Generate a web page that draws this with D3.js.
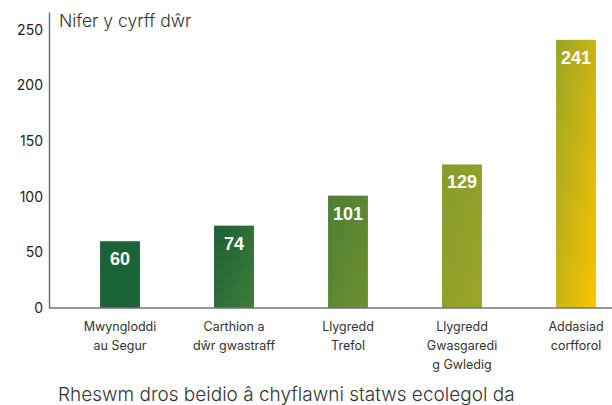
<html>
<head>
<meta charset="utf-8">
<script src="https://cdn.jsdelivr.net/npm/d3@7"></script>
<style>
  body { margin: 0; background: #fff; }
  .tick text { font-family: Inter, "DejaVu Sans", sans-serif; }
</style>
</head>
<body>
<svg width="612" height="405"></svg>
<script>
// data
var categories = [
  ["Mwyngloddi", "au Segur"],
  ["Carthion a", "dŵr gwastraff"],
  ["Llygredd", "Trefol"],
  ["Llygredd", "Gwasgaredi", "g Gwledig"],
  ["Addasiad", "corfforol"]
];
var values = [60, 74, 101, 129, 241];
var yTicks = [0, 50, 100, 150, 200, 250];
var yTitle = "Nifer y cyrff dŵr";
var xTitle = "Rheswm dros beidio â chyflawni statws ecolegol da";

// per-bar gradient, top-left -> bottom-right
var barColors = [
  ["#1a6237", "#1c6538"],
  ["#1b6136", "#3d7d3a"],
  ["#4e7e33", "#6c9130"],
  ["#879a2b", "#9ca629"],
  ["#98a526", "#fdc300"]
];

var svg = d3.select("svg"),
    width = +svg.attr("width"),
    height = +svg.attr("height");

var x = d3.scaleBand()
    .domain(d3.range(values.length))
    .range([63, 633])
    .paddingInner(0.65)
    .paddingOuter(0.325);

var y = d3.scaleLinear()
    .domain([0, 266])
    .range([308, 12]);

var defs = svg.append("defs");
barColors.forEach(function(c, i) {
  var g = defs.append("linearGradient")
      .attr("id", "grad" + i)
      .attr("x1", "0").attr("y1", "0")
      .attr("x2", "1").attr("y2", "1");
  g.append("stop").attr("offset", "0%").attr("stop-color", c[0]);
  g.append("stop").attr("offset", "100%").attr("stop-color", c[1]);
});

// bars
svg.append("g").selectAll("rect")
    .data(values)
    .enter().append("rect")
    .attr("x", function(d, i) { return x(i); })
    .attr("y", function(d) { return y(d); })
    .attr("width", x.bandwidth())
    .attr("height", function(d) { return y(0) - y(d); })
    .attr("fill", function(d, i) { return "url(#grad" + i + ")"; });

// value labels
svg.append("g").selectAll("text")
    .data(values)
    .enter().append("text")
    .attr("x", function(d, i) { return x(i) + x.bandwidth() / 2; })
    .attr("y", function(d) { return y(d) + 24; })
    .attr("text-anchor", "middle")
    .attr("fill", "#fff")
    .attr("font-family", "'Liberation Sans', Arial, sans-serif")
    .attr("font-weight", "bold")
    .attr("font-size", "18px")
    .text(function(d) { return d; });

// y axis
var yAxis = svg.append("g")
    .attr("transform", "translate(49,0)")
    .call(d3.axisLeft(y).tickValues(yTicks).tickSize(0).tickPadding(6));
yAxis.select(".domain").attr("stroke", "#70737c").attr("stroke-width", 1.5);
yAxis.selectAll(".tick text")
    .attr("font-size", "14px")
    .attr("fill", "#222");

// x axis baseline
svg.append("line")
    .attr("x1", 49).attr("x2", width)
    .attr("y1", y(0)).attr("y2", y(0))
    .attr("stroke", "#70737c")
    .attr("stroke-width", 1.5);

// category labels
var cat = svg.append("g").selectAll("text")
    .data(categories)
    .enter().append("text")
    .attr("text-anchor", "middle")
    .attr("font-family", "Inter, 'DejaVu Sans', sans-serif")
    .attr("font-size", "12.5px")
    .attr("fill", "#333");
cat.each(function(lines, i) {
  d3.select(this).selectAll("tspan")
      .data(lines)
      .enter().append("tspan")
      .attr("x", x(i) + x.bandwidth() / 2)
      .attr("y", function(d, j) { return 331 + j * 19; })
      .text(function(d) { return d; });
});

// titles
svg.append("text")
    .attr("x", 59)
    .attr("y", 27)
    .attr("font-family", "Inter, 'DejaVu Sans', sans-serif")
    .attr("font-weight", 300)
    .attr("font-size", "17.5px")
    .attr("fill", "#333")
    .text(yTitle);

svg.append("text")
    .attr("x", 58)
    .attr("y", 401)
    .attr("font-family", "Inter, 'DejaVu Sans', sans-serif")
    .attr("font-weight", 300)
    .attr("font-size", "19px")
    .attr("fill", "#333")
    .text(xTitle);
</script>
</body>
</html>
